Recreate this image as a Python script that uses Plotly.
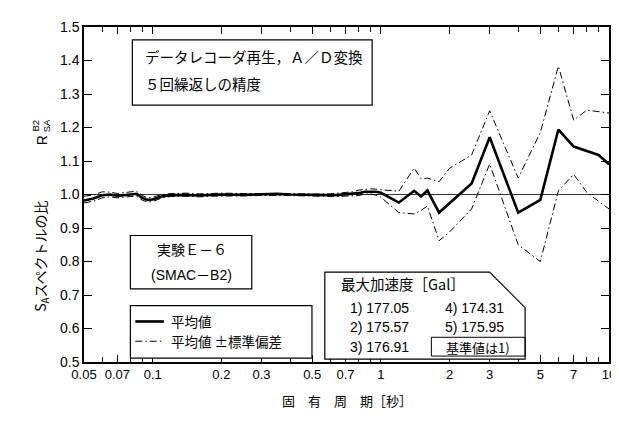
import plotly.graph_objects as go

# ---------------- data ----------------
period = [0.05, 0.055, 0.06, 0.065, 0.07, 0.075, 0.08, 0.085, 0.09, 0.095,
          0.1, 0.11, 0.12, 0.14, 0.16, 0.18, 0.2, 0.25, 0.3, 0.35, 0.4,
          0.45, 0.5, 0.6, 0.65, 0.7, 0.75, 0.8, 0.85, 0.9, 0.95, 1.0,
          1.2, 1.4, 1.5, 1.6, 1.8, 2.0, 2.5, 3.0, 4.0, 5.0, 6.0, 7.0, 8.0, 9.0, 10.0]
mean_ratio = [0.982, 0.988, 0.998, 1.000, 0.996, 0.999, 1.000, 1.002, 0.990, 0.984,
              0.985, 0.995, 0.998, 0.999, 0.997, 0.999, 1.000, 0.999, 1.000, 1.002, 1.000,
              0.999, 0.998, 0.998, 0.999, 1.000, 1.001, 1.004, 1.008, 1.009, 1.008, 1.005,
              0.976, 1.011, 0.994, 1.012, 0.946, 0.974, 1.033, 1.171, 0.946, 0.984, 1.194,
              1.143, 1.130, 1.118, 1.090]
upper_ratio = [0.995, 0.998, 1.008, 1.007, 1.003, 1.005, 1.006, 1.010, 0.997, 0.990,
               0.992, 1.000, 1.003, 1.004, 1.002, 1.003, 1.004, 1.003, 1.003, 1.005, 1.003,
               1.002, 1.001, 1.002, 1.004, 1.006, 1.008, 1.013, 1.016, 1.017, 1.016, 1.014,
               1.010, 1.079, 1.047, 1.049, 1.038, 1.078, 1.118, 1.250, 1.049, 1.185, 1.383,
               1.222, 1.252, 1.248, 1.243]
lower_ratio = [0.975, 0.980, 0.990, 0.993, 0.990, 0.993, 0.994, 0.995, 0.983, 0.978,
               0.979, 0.990, 0.994, 0.995, 0.993, 0.995, 0.996, 0.996, 0.997, 0.998, 0.997,
               0.996, 0.995, 0.995, 0.994, 0.995, 0.995, 0.997, 1.001, 1.002, 0.998, 0.992,
               0.946, 0.942, 0.952, 0.966, 0.862, 0.888, 0.957, 1.091, 0.850, 0.800, 1.011,
               1.060, 1.006, 0.980, 0.957]
reference_value = 1.0

x_tick_vals = [0.05, 0.07, 0.1, 0.2, 0.3, 0.5, 0.7, 1, 2, 3, 5, 7, 10]
x_tick_text = ["0.05", "0.07", "0.1", "0.2", "0.3", "0.5", "0.7", "1", "2", "3", "5", "7", "10"]
x_minor_vals = [0.06, 0.08, 0.09, 0.4, 0.6, 0.8, 0.9, 4, 6, 8, 9]
y_tick_vals = [0.5, 0.6, 0.7, 0.8, 0.9, 1.0, 1.1, 1.2, 1.3, 1.4, 1.5]

max_acc_rows = [("1)", "177.05", "4)", "174.31"),
                ("2)", "175.57", "5)", "175.95"),
                ("3)", "176.91", None, None)]

# ---------------- layout helpers ----------------
W, H = 619, 434
ML, MR, MT, MB = 76, 11, 15, 80
PW, PH = W - ML - MR, H - MT - MB


def px(x):
    return (x - ML) / PW


def py(y):
    return (H - MB - y) / PH


JP = "Noto Sans CJK JP"
NUM = "Liberation Sans, Noto Sans CJK JP"
DASHDOT = "7px,3px,1.5px,3px"

fig = go.Figure()

fig.add_trace(go.Scatter(x=period, y=upper_ratio, mode="lines",
                         line=dict(color="black", width=1, dash=DASHDOT),
                         showlegend=False))
fig.add_trace(go.Scatter(x=period, y=lower_ratio, mode="lines",
                         line=dict(color="black", width=1, dash=DASHDOT),
                         showlegend=False))
fig.add_trace(go.Scatter(x=period, y=mean_ratio, mode="lines",
                         line=dict(color="black", width=2.6),
                         showlegend=False))

shapes = []
# reference line at 1.0
shapes.append(dict(type="line", xref="paper", yref="y", x0=0, x1=1,
                   y0=reference_value, y1=reference_value,
                   line=dict(color="black", width=0.8), layer="below"))
# box 1 (top-left)
shapes.append(dict(type="rect", xref="paper", yref="paper",
                   x0=px(125), x1=px(368), y0=py(28), y1=py(94),
                   line=dict(color="black", width=1.2), fillcolor="white"))
# box 2 (experiment)
shapes.append(dict(type="rect", xref="paper", yref="paper",
                   x0=px(123), x1=px(246), y0=py(226), y1=py(280),
                   line=dict(color="black", width=1.2), fillcolor="white"))
# legend box
shapes.append(dict(type="rect", xref="paper", yref="paper",
                   x0=px(123), x1=px(307), y0=py(297), y1=py(350),
                   line=dict(color="black", width=1.2), fillcolor="white"))
shapes.append(dict(type="line", xref="paper", yref="paper",
                   x0=px(128), x1=px(157), y0=py(313), y1=py(313),
                   line=dict(color="black", width=2.6)))
shapes.append(dict(type="line", xref="paper", yref="paper",
                   x0=px(128), x1=px(157), y0=py(333), y1=py(333),
                   line=dict(color="black", width=1, dash=DASHDOT)))
# max acceleration box (with cut corner)
pts = [(320, 263), (487, 263), (523, 299), (523, 351), (320, 351)]
path = "M " + " L ".join(f"{px(a):.5f},{py(b):.5f}" for a, b in pts) + " Z"
shapes.append(dict(type="path", xref="paper", yref="paper", path=path,
                   line=dict(color="black", width=1.2), fillcolor="white"))
shapes.append(dict(type="rect", xref="paper", yref="paper",
                   x0=px(428), x1=px(523), y0=py(329), y1=py(348),
                   line=dict(color="black", width=1)))

ann = []


def text(x, y, s, size=14, fam=JP, anchor="left", angle=0):
    ann.append(dict(x=px(x), y=py(y), xref="paper", yref="paper", text=s,
                    showarrow=False, xanchor=anchor, yanchor="middle",
                    textangle=angle,
                    font=dict(family=fam, size=size, color="black")))


text(136, 45, "データレコーダ再生，Ａ／Ｄ変換", 14.5)
text(136, 72, "５回繰返しの精度", 14.5)
text(185, 240, "実験Ｅ－６", 14, anchor="center")
text(185, 266, "(SMAC－B2)", 14, NUM, anchor="center")
text(162, 313, "平均値", 13.5)
text(162, 333, "平均値 ±標準偏差", 13.5)
text(334, 275, "最大加速度［Gal］", 14.5)
row_y = [299, 319, 339]
for (a, b, c, d), yy in zip(max_acc_rows, row_y):
    text(344, yy, f"{a} {b}", 14, NUM)
    if c is not None:
        text(440, yy, f"{c} {d}", 14, NUM)
text(475, 339, "基準値は1)", 13, anchor="center")

# y axis title (rotated), R^{B2}_{SA} with stacked indices
text(33, 247, "S<sub>A</sub>スペクトルの比", 14, anchor="center", angle=-90)
text(33, 130, "R", 14, NUM, anchor="center", angle=-90)
text(27, 115, "B2", 9.5, NUM, anchor="center", angle=-90)
text(38, 115, "SA", 9.5, NUM, anchor="center", angle=-90)
# x axis title
text(342, 393, "固　有　周　期［秒］", 13, anchor="center")

fig.update_layout(
    width=W, height=H,
    margin=dict(l=ML, r=MR, t=MT, b=MB),
    paper_bgcolor="white", plot_bgcolor="white",
    shapes=shapes, annotations=ann,
    xaxis=dict(type="log", range=[-1.30103, 1.0],
               tickvals=x_tick_vals, ticktext=x_tick_text,
               ticks="inside", ticklen=7, tickwidth=1, tickcolor="black",
               minor=dict(tickvals=x_minor_vals, ticks="inside", ticklen=5,
                          tickcolor="black", tickwidth=1, showgrid=False),
               showline=True, linecolor="black", linewidth=1.5, mirror="ticks",
               showgrid=False, zeroline=False,
               tickfont=dict(family=NUM, size=13, color="black")),
    yaxis=dict(range=[0.5, 1.5], tickvals=y_tick_vals, tickformat=".1f",
               ticks="inside", ticklen=8, tickwidth=1, tickcolor="black",
               showline=True, linecolor="black", linewidth=1.5, mirror="ticks",
               showgrid=False, zeroline=False,
               tickfont=dict(family=NUM, size=14, color="black")),
)

fig.write_html("out.html")
